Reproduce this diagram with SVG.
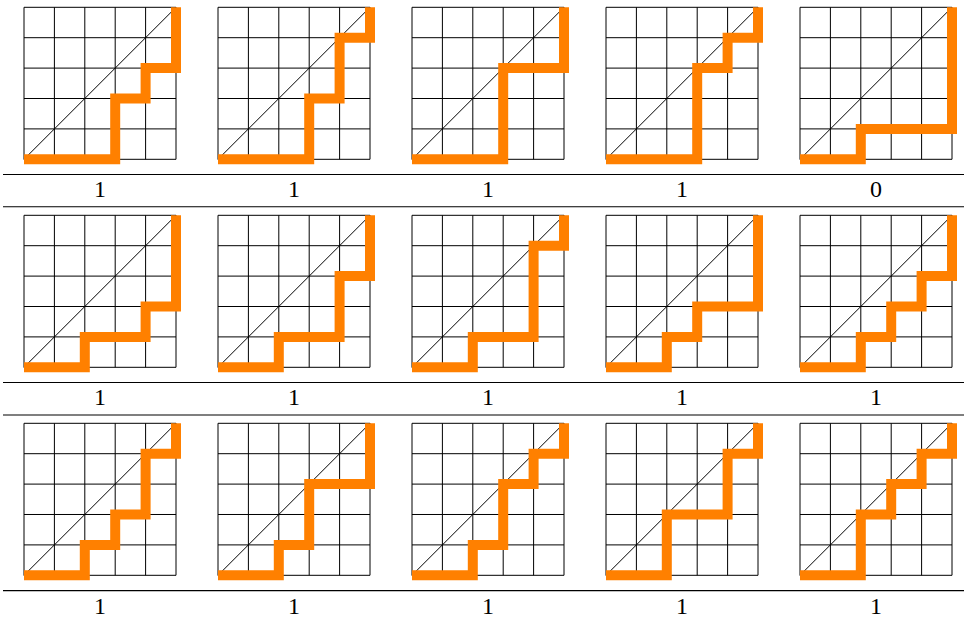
<svg xmlns="http://www.w3.org/2000/svg" width="964" height="623" viewBox="0 0 964 623">
<style>
.g line{stroke:#000;stroke-width:1;fill:none}
.d{stroke:#000;stroke-width:0.8;fill:none}
.p{stroke:#ff8000;stroke-width:10;fill:none;stroke-linecap:butt;stroke-linejoin:miter}
.rule{stroke:#000;stroke-width:1.1}
.lbl{font-family:"Liberation Serif","DejaVu Serif",serif;font-size:24px;fill:#000;text-anchor:middle}
</style>
<defs>
<g id="grid" class="g">
<line x1="0" y1="0" x2="0" y2="152"/>
<line x1="30.4" y1="0" x2="30.4" y2="152"/>
<line x1="60.8" y1="0" x2="60.8" y2="152"/>
<line x1="91.2" y1="0" x2="91.2" y2="152"/>
<line x1="121.6" y1="0" x2="121.6" y2="152"/>
<line x1="152" y1="0" x2="152" y2="152"/>
<line x1="0" y1="0" x2="152" y2="0"/>
<line x1="0" y1="30.4" x2="152" y2="30.4"/>
<line x1="0" y1="60.8" x2="152" y2="60.8"/>
<line x1="0" y1="91.2" x2="152" y2="91.2"/>
<line x1="0" y1="121.6" x2="152" y2="121.6"/>
<line x1="0" y1="152" x2="152" y2="152"/>
<line class="d" x1="0" y1="152" x2="152" y2="0"/>
</g>
</defs>
<rect width="964" height="623" fill="#fff"/>
<g id="rules">
<line class="rule" x1="3" y1="174.5" x2="964" y2="174.5"/>
<line class="rule" x1="3" y1="206.8" x2="964" y2="206.8"/>
<line class="rule" x1="3" y1="382.5" x2="964" y2="382.5"/>
<line class="rule" x1="3" y1="415" x2="964" y2="415"/>
<line class="rule" x1="3" y1="590.6" x2="964" y2="590.6"/>
</g>
<!-- Row 1 -->
<g id="r1c1" transform="translate(24,7.3)"><use href="#grid"/><path class="p" d="M0,152 h91.2 v-60.8 h30.4 v-30.4 h30.4 v-60.8"/></g>
<g id="r1c2" transform="translate(218,7.3)"><use href="#grid"/><path class="p" d="M0,152 h91.2 v-60.8 h30.4 v-60.8 h30.4 v-30.4"/></g>
<g id="r1c3" transform="translate(412,7.3)"><use href="#grid"/><path class="p" d="M0,152 h91.2 v-91.2 h60.8 v-60.8"/></g>
<g id="r1c4" transform="translate(606,7.3)"><use href="#grid"/><path class="p" d="M0,152 h91.2 v-91.2 h30.4 v-30.4 h30.4 v-30.4"/></g>
<g id="r1c5" transform="translate(800,7.3)"><use href="#grid"/><path class="p" d="M0,152 h60.8 v-30.4 h91.2 v-121.6"/></g>
<!-- Row 2 -->
<g id="r2c1" transform="translate(24,215.3)"><use href="#grid"/><path class="p" d="M0,152 h60.8 v-30.4 h60.8 v-30.4 h30.4 v-91.2"/></g>
<g id="r2c2" transform="translate(218,215.3)"><use href="#grid"/><path class="p" d="M0,152 h60.8 v-30.4 h60.8 v-60.8 h30.4 v-60.8"/></g>
<g id="r2c3" transform="translate(412,215.3)"><use href="#grid"/><path class="p" d="M0,152 h60.8 v-30.4 h60.8 v-91.2 h30.4 v-30.4"/></g>
<g id="r2c4" transform="translate(606,215.3)"><use href="#grid"/><path class="p" d="M0,152 h60.8 v-30.4 h30.4 v-30.4 h60.8 v-91.2"/></g>
<g id="r2c5" transform="translate(800,215.3)"><use href="#grid"/><path class="p" d="M0,152 h60.8 v-30.4 h30.4 v-30.4 h30.4 v-30.4 h30.4 v-60.8"/></g>
<!-- Row 3 -->
<g id="r3c1" transform="translate(24,423.3)"><use href="#grid"/><path class="p" d="M0,152 h60.8 v-30.4 h30.4 v-30.4 h30.4 v-60.8 h30.4 v-30.4"/></g>
<g id="r3c2" transform="translate(218,423.3)"><use href="#grid"/><path class="p" d="M0,152 h60.8 v-30.4 h30.4 v-60.8 h60.8 v-60.8"/></g>
<g id="r3c3" transform="translate(412,423.3)"><use href="#grid"/><path class="p" d="M0,152 h60.8 v-30.4 h30.4 v-60.8 h30.4 v-30.4 h30.4 v-30.4"/></g>
<g id="r3c4" transform="translate(606,423.3)"><use href="#grid"/><path class="p" d="M0,152 h60.8 v-60.8 h60.8 v-60.8 h30.4 v-30.4"/></g>
<g id="r3c5" transform="translate(800,423.3)"><use href="#grid"/><path class="p" d="M0,152 h60.8 v-60.8 h30.4 v-30.4 h30.4 v-30.4 h30.4 v-30.4"/></g>
<g id="labels">
<text class="lbl" x="100" y="197">1</text>
<text class="lbl" x="294" y="197">1</text>
<text class="lbl" x="488" y="197">1</text>
<text class="lbl" x="682" y="197">1</text>
<text class="lbl" x="876" y="197">0</text>
<text class="lbl" x="100" y="405">1</text>
<text class="lbl" x="294" y="405">1</text>
<text class="lbl" x="488" y="405">1</text>
<text class="lbl" x="682" y="405">1</text>
<text class="lbl" x="876" y="405">1</text>
<text class="lbl" x="100" y="614">1</text>
<text class="lbl" x="294" y="614">1</text>
<text class="lbl" x="488" y="614">1</text>
<text class="lbl" x="682" y="614">1</text>
<text class="lbl" x="876" y="614">1</text>
</g>
</svg>
